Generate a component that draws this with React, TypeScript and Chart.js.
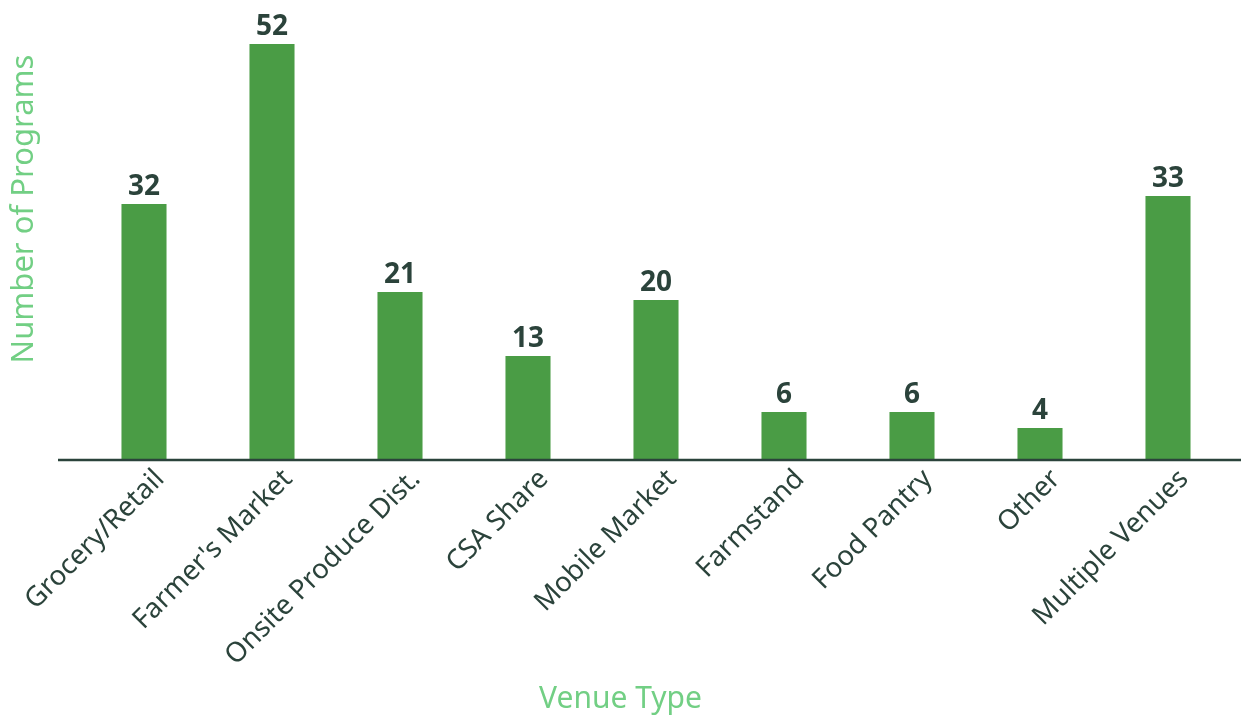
import React, { useEffect, useRef } from "react";
import { Chart, registerables } from "chart.js";

Chart.register(...registerables);

const categories = [
  "Grocery/Retail",
  "Farmer's Market",
  "Onsite Produce Dist.",
  "CSA Share",
  "Mobile Market",
  "Farmstand",
  "Food Pantry",
  "Other",
  "Multiple Venues",
];
const programCounts = [32, 52, 21, 13, 20, 6, 6, 4, 33];
const xTitle = "Venue Type";
const yTitle = "Number of Programs";

const BAR_COLOR = "#4a9c45";
const DARK = "#2b433b";
const TITLE_GREEN = "#72cf84";
const FONT = "'Noto Sans', sans-serif";

const valueLabels = {
  id: "valueLabels",
  afterDatasetsDraw(chart: any) {
    const ctx = chart.ctx;
    const meta = chart.getDatasetMeta(0);
    ctx.save();
    ctx.font = `bold 28px ${FONT}`;
    ctx.fillStyle = DARK;
    ctx.textAlign = "center";
    ctx.textBaseline = "bottom";
    meta.data.forEach((bar: any, i: number) => {
      ctx.fillText(String(programCounts[i]), bar.x, bar.y - 3);
    });
    ctx.restore();
  },
};

const decorations = {
  id: "decorations",
  afterDraw(chart: any) {
    const { ctx, chartArea } = chart;
    const y = chart.scales.y.getPixelForValue(0);
    ctx.save();
    ctx.strokeStyle = DARK;
    ctx.lineWidth = 2.5;
    ctx.beginPath();
    ctx.moveTo(chartArea.left - 22, y);
    ctx.lineTo(chart.width, y);
    ctx.stroke();

    ctx.fillStyle = TITLE_GREEN;
    ctx.textAlign = "center";
    ctx.textBaseline = "middle";
    ctx.font = `30px ${FONT}`;
    ctx.fillText(xTitle, chart.width / 2, 699);

    ctx.translate(24, 209);
    ctx.rotate(-Math.PI / 2);
    ctx.font = `31px ${FONT}`;
    ctx.fillText(yTitle, 0, 0);
    ctx.restore();
  },
};

export default function App() {
  const canvasRef = useRef<HTMLCanvasElement>(null);

  useEffect(() => {
    document.body.style.margin = "0";
    const chart = new Chart(canvasRef.current!, {
      type: "bar",
      data: {
        labels: categories,
        datasets: [
          {
            data: programCounts,
            backgroundColor: BAR_COLOR,
            categoryPercentage: 1,
            barPercentage: 0.352,
          },
        ],
      },
      plugins: [valueLabels, decorations],
      options: {
        animation: false,
        responsive: false,
        layout: { padding: { top: 0, right: 9, left: 0, bottom: 0 } },
        plugins: {
          legend: { display: false },
          tooltip: { enabled: false },
        },
        scales: {
          x: {
            grid: { display: false, drawTicks: false },
            border: { display: false },
            ticks: {
              color: DARK,
              font: { family: FONT, size: 27.5 },
              maxRotation: 45,
              minRotation: 45,
              padding: 3,
              labelOffset: 16,
              autoSkip: false,
            },
            afterFit: (s: any) => {
              s.height = 257;
            },
          },
          y: {
            min: 0,
            max: 57.5,
            grid: { display: false, drawTicks: false },
            border: { display: false },
            ticks: { display: false },
            afterFit: (s: any) => {
              s.width = 80;
            },
          },
        },
      },
    });
    return () => chart.destroy();
  }, []);

  return <canvas ref={canvasRef} width={1241} height={717} style={{ display: "block" }} />;
}
